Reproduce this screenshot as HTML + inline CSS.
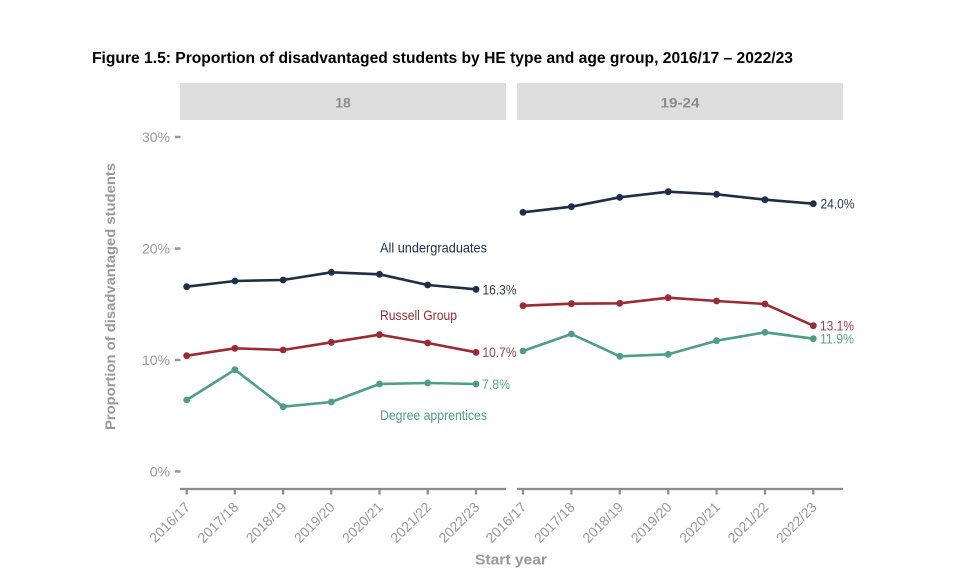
<!DOCTYPE html>
<html>
<head>
<meta charset="utf-8">
<style>
html,body{margin:0;padding:0;background:#fff;}
svg{display:block;}
text{font-family:"Liberation Sans",sans-serif;}
</style>
</head>
<body>
<svg width="970" height="588" viewBox="0 0 970 588" xmlns="http://www.w3.org/2000/svg">
<rect width="970" height="588" fill="#fff"/>
<!-- Title -->
<text x="92" y="63" font-size="16" font-weight="bold" fill="#000" textLength="701" lengthAdjust="spacingAndGlyphs">Figure 1.5: Proportion of disadvantaged students by HE type and age group, 2016/17 – 2022/23</text>

<!-- Strips -->
<rect x="180" y="83" width="326" height="37" fill="#dedede"/>
<rect x="517" y="83" width="326" height="37" fill="#dedede"/>
<text x="343" y="107.5" font-size="14" font-weight="bold" fill="#8c8c8c" text-anchor="middle">18</text>
<text x="680" y="107.5" font-size="14" font-weight="bold" fill="#8c8c8c" text-anchor="middle" textLength="39" lengthAdjust="spacingAndGlyphs">19-24</text>

<!-- Y axis ticks & labels -->
<g fill="#999" font-size="14" text-anchor="end">
<text x="170" y="142">30%</text>
<text x="170" y="253.5">20%</text>
<text x="170" y="365">10%</text>
<text x="170" y="476.5">0%</text>
</g>
<g stroke="#999" stroke-width="2.5">
<line x1="175" y1="137" x2="180.5" y2="137"/>
<line x1="175" y1="248.5" x2="180.5" y2="248.5"/>
<line x1="175" y1="360" x2="180.5" y2="360"/>
<line x1="175" y1="471.5" x2="180.5" y2="471.5"/>
</g>
<!-- Y axis title -->
<text transform="translate(115,296.5) rotate(-90)" font-size="14" font-weight="bold" fill="#999" text-anchor="middle" textLength="267" lengthAdjust="spacingAndGlyphs">Proportion of disadvantaged students</text>

<!-- X axes -->
<g stroke="#8c8c8c" stroke-width="2.2">
<line x1="180" y1="489" x2="506" y2="489"/>
<line x1="517" y1="489" x2="843" y2="489"/>
<line x1="186.7" y1="489" x2="186.7" y2="494.5"/>
<line x1="234.9" y1="489" x2="234.9" y2="494.5"/>
<line x1="283.1" y1="489" x2="283.1" y2="494.5"/>
<line x1="331.3" y1="489" x2="331.3" y2="494.5"/>
<line x1="379.5" y1="489" x2="379.5" y2="494.5"/>
<line x1="427.7" y1="489" x2="427.7" y2="494.5"/>
<line x1="476" y1="489" x2="476" y2="494.5"/>
<line x1="523" y1="489" x2="523" y2="494.5"/>
<line x1="571.4" y1="489" x2="571.4" y2="494.5"/>
<line x1="619.8" y1="489" x2="619.8" y2="494.5"/>
<line x1="668.2" y1="489" x2="668.2" y2="494.5"/>
<line x1="716.6" y1="489" x2="716.6" y2="494.5"/>
<line x1="765" y1="489" x2="765" y2="494.5"/>
<line x1="813.3" y1="489" x2="813.3" y2="494.5"/>
</g>
<g fill="#999" font-size="14" text-anchor="end">
<text transform="translate(191,508) rotate(-45)">2016/17</text>
<text transform="translate(239.2,508) rotate(-45)">2017/18</text>
<text transform="translate(287.4,508) rotate(-45)">2018/19</text>
<text transform="translate(335.6,508) rotate(-45)">2019/20</text>
<text transform="translate(383.8,508) rotate(-45)">2020/21</text>
<text transform="translate(432,508) rotate(-45)">2021/22</text>
<text transform="translate(480.3,508) rotate(-45)">2022/23</text>
<text transform="translate(527.3,508) rotate(-45)">2016/17</text>
<text transform="translate(575.7,508) rotate(-45)">2017/18</text>
<text transform="translate(624.1,508) rotate(-45)">2018/19</text>
<text transform="translate(672.5,508) rotate(-45)">2019/20</text>
<text transform="translate(720.9,508) rotate(-45)">2020/21</text>
<text transform="translate(769.3,508) rotate(-45)">2021/22</text>
<text transform="translate(817.6,508) rotate(-45)">2022/23</text>
</g>
<text x="511" y="564.5" font-size="15" font-weight="bold" fill="#999" text-anchor="middle" textLength="72" lengthAdjust="spacingAndGlyphs">Start year</text>

<!-- Series -->
<g fill="none" stroke-width="2.6" stroke-linejoin="round">
<polyline stroke="#1e2e45" points="186.7,286.7 234.9,281 283.1,280 331.3,272.3 379.5,274.3 427.7,285 476,289.3"/>
<polyline stroke="#9b2a35" points="186.7,355.7 234.9,348.3 283.1,350 331.3,342.3 379.5,334.7 427.7,343 476,352.3"/>
<polyline stroke="#4e9d88" points="186.7,400 234.9,369.7 283.1,406.7 331.3,402 379.5,384 427.7,383 476,384"/>
<polyline stroke="#1e2e45" points="523,212.3 571.4,206.7 619.8,197.3 668.2,191.7 716.6,194.3 765,199.7 813.3,203.7"/>
<polyline stroke="#9b2a35" points="523,305.7 571.4,303.7 619.8,303.3 668.2,297.7 716.6,301 765,304 813.3,325.7"/>
<polyline stroke="#4e9d88" points="523,351 571.4,334 619.8,356.3 668.2,354.3 716.6,340.7 765,332.3 813.3,338.7"/>
</g>
<g fill="#1e2e45">
<circle cx="186.7" cy="286.7" r="3.4"/><circle cx="234.9" cy="281" r="3.4"/><circle cx="283.1" cy="280" r="3.4"/><circle cx="331.3" cy="272.3" r="3.4"/><circle cx="379.5" cy="274.3" r="3.4"/><circle cx="427.7" cy="285" r="3.4"/><circle cx="476" cy="289.3" r="3.4"/>
<circle cx="523" cy="212.3" r="3.4"/><circle cx="571.4" cy="206.7" r="3.4"/><circle cx="619.8" cy="197.3" r="3.4"/><circle cx="668.2" cy="191.7" r="3.4"/><circle cx="716.6" cy="194.3" r="3.4"/><circle cx="765" cy="199.7" r="3.4"/><circle cx="813.3" cy="203.7" r="3.4"/>
</g>
<g fill="#9b2a35">
<circle cx="186.7" cy="355.7" r="3.4"/><circle cx="234.9" cy="348.3" r="3.4"/><circle cx="283.1" cy="350" r="3.4"/><circle cx="331.3" cy="342.3" r="3.4"/><circle cx="379.5" cy="334.7" r="3.4"/><circle cx="427.7" cy="343" r="3.4"/><circle cx="476" cy="352.3" r="3.4"/>
<circle cx="523" cy="305.7" r="3.4"/><circle cx="571.4" cy="303.7" r="3.4"/><circle cx="619.8" cy="303.3" r="3.4"/><circle cx="668.2" cy="297.7" r="3.4"/><circle cx="716.6" cy="301" r="3.4"/><circle cx="765" cy="304" r="3.4"/><circle cx="813.3" cy="325.7" r="3.4"/>
</g>
<g fill="#4e9d88">
<circle cx="186.7" cy="400" r="3.4"/><circle cx="234.9" cy="369.7" r="3.4"/><circle cx="283.1" cy="406.7" r="3.4"/><circle cx="331.3" cy="402" r="3.4"/><circle cx="379.5" cy="384" r="3.4"/><circle cx="427.7" cy="383" r="3.4"/><circle cx="476" cy="384" r="3.4"/>
<circle cx="523" cy="351" r="3.4"/><circle cx="571.4" cy="334" r="3.4"/><circle cx="619.8" cy="356.3" r="3.4"/><circle cx="668.2" cy="354.3" r="3.4"/><circle cx="716.6" cy="340.7" r="3.4"/><circle cx="765" cy="332.3" r="3.4"/><circle cx="813.3" cy="338.7" r="3.4"/>
</g>

<!-- End labels -->
<g font-size="14">
<text x="482.5" y="294.5" fill="#2c3a50" textLength="34" lengthAdjust="spacingAndGlyphs">16.3%</text>
<text x="482.5" y="357" fill="#a0404a" textLength="34" lengthAdjust="spacingAndGlyphs">10.7%</text>
<text x="482" y="389" fill="#5aa592" textLength="28" lengthAdjust="spacingAndGlyphs">7.8%</text>
<text x="820.5" y="208.5" fill="#2c3a50" textLength="34" lengthAdjust="spacingAndGlyphs">24.0%</text>
<text x="820" y="330.5" fill="#a0404a" textLength="34" lengthAdjust="spacingAndGlyphs">13.1%</text>
<text x="820" y="343.5" fill="#5aa592" textLength="34" lengthAdjust="spacingAndGlyphs">11.9%</text>
</g>

<!-- Annotations -->
<g font-size="14">
<text x="380" y="252.5" fill="#1e2e45" textLength="107" lengthAdjust="spacingAndGlyphs">All undergraduates</text>
<text x="380" y="320" fill="#9b2a35" textLength="77" lengthAdjust="spacingAndGlyphs">Russell Group</text>
<text x="380" y="420" fill="#4e9d88" textLength="107" lengthAdjust="spacingAndGlyphs">Degree apprentices</text>
</g>
</svg>
</body>
</html>
